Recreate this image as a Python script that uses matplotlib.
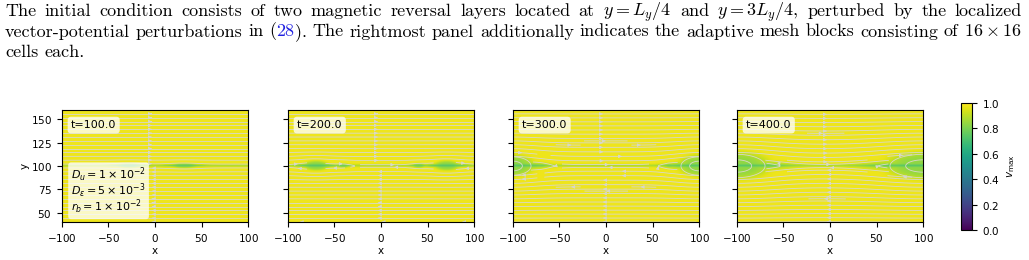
"""
Relecture d'une figure : feuilles de courant et îlots magnétiques
"""

import numpy as np
import matplotlib.pyplot as plt

plt.rcParams['mathtext.fontset'] = 'dejavusans'
plt.rcParams['axes.formatter.use_mathtext'] = True

# Texte du paragraphe au-dessus de la figure
para_lines = [
    ["The", "initial", "condition", "consists", "of", "two", "magnetic", "reversal",
     "layers", "located", "at", "$y = L_y/4$", "and", "$y = 3L_y/4$,", "perturbed",
     "by", "the", "localized"],
    ["vector-potential", "perturbations", "in", "(|28|).", "The", "rightmost",
     "panel", "additionally", "indicates", "the", "adaptive", "mesh", "blocks",
     "consisting", "of", "$16\\times16$"],
    ["cells", "each."],
]

# Données
times = [100.0, 200.0, 300.0, 400.0]
island_x = [[-28, 31], [-70, -41, 40, 70], [-100, -70, 68, 100], [-100, 100]]
island_wx = [[12, 13], [13, 6, 6, 13], [22, 5, 5, 22], [34, 40]]
island_wy = [[2.5, 2.5], [5, 2.5, 2.5, 5], [11, 2.5, 2.5, 11], [14, 14]]
island_depth = [[0.12, 0.12], [0.14, 0.1, 0.1, 0.14], [0.14, 0.09, 0.09, 0.14],
                [0.14, 0.14]]
sheet_y = 100
xlim = (-100, 100)
ylim = (40, 160)
params = ["$D_u = 1\\times10^{-2}$", "$D_\\varepsilon = 5\\times10^{-3}$",
          "$r_b = 1\\times10^{-2}$"]
cbar_ticks = [0.0, 0.2, 0.4, 0.6, 0.8, 1.0]

fig = plt.figure(figsize=(10.29, 2.6), dpi=100)
W, H = 1029, 260

# --- paragraphe justifié ---
renderer = fig.canvas.get_renderer()
baselines = [16, 36.5, 57]
x_left, x_right = 5, 1022
fs = 13
for k, line in enumerate(para_lines):
    arts = []
    widths = []
    for word in line:
        if "|" in word:
            parts = word.split("|")
            piece = [(parts[0], "k"), (parts[1], "#2020e0"), (parts[2], "k")]
        else:
            piece = [(word, "k")]
        wl = []
        for txt, col in piece:
            t = fig.text(0, 1 - baselines[k] / H, txt, fontsize=fs, color=col,
                         va='baseline', ha='left', family='cmr10',
                         math_fontfamily='cm')
            bb = t.get_window_extent(renderer)
            wl.append((t, bb.width))
        arts.append(wl)
        widths.append(sum(w for _, w in wl))
    space = fs * 1.389 * 0.33
    if k < len(para_lines) - 1:
        space = (x_right - x_left - sum(widths)) / (len(arts) - 1)
    x = x_left
    for wl, wtot in zip(arts, widths):
        xx = x
        for t, w in wl:
            t.set_x(xx / W)
            xx += w
        x += wtot + space

# --- panneaux ---
ax_left = [61, 287, 512, 736]
ax_w = 188
ax_bottom = 1 - 222 / H
ax_h = 112 / H

xs = np.linspace(xlim[0], xlim[1], 401)
ys = np.linspace(ylim[0], ylim[1], 241)
X, Y = np.meshgrid(xs, ys)
line_col = '#d8d8cc'

for i in range(4):
    ax = fig.add_axes([ax_left[i] / W, ax_bottom, ax_w / W, ax_h])
    # champ de couleur
    val = 0.975 - 0.1 * np.exp(-((Y - sheet_y) / 1.3) ** 2)
    blob = np.zeros_like(X)
    core = np.zeros_like(X)
    big = np.zeros_like(X)
    for xc, wx, wy, d in zip(island_x[i], island_wx[i], island_wy[i], island_depth[i]):
        r2 = ((X - xc) / wx) ** 2 + ((Y - sheet_y) / wy) ** 2
        blob = np.maximum(blob, d * np.exp(-r2 ** 2.5))
        core = np.maximum(core, np.exp(-r2))
        if wy >= 10:
            big = np.maximum(big, np.exp(-r2))
        # queue de l'îlot le long de la feuille
        r2t = ((X - xc) / (1.7 * wx)) ** 2 + ((Y - sheet_y) / (0.4 * wy)) ** 2
        blob = np.maximum(blob, 0.9 * d * np.exp(-r2t ** 2))
    val = val - blob
    im = ax.imshow(val, extent=(*xlim, *ylim), origin='lower', cmap='viridis',
                   vmin=0, vmax=1, interpolation='bilinear', aspect='equal')
    # flux magnétique
    Wd = 2.0
    A = Wd * np.log(np.cosh((Y - sheet_y) / Wd))
    for xc, wx, wy in zip(island_x[i], island_wx[i], island_wy[i]):
        A -= 0.5 * wy * np.exp(-((X - xc) / (1.5 * wx)) ** 2
                               - ((Y - sheet_y) / (2.5 * wy)) ** 2)
    dAdy, dAdx = np.gradient(A, ys, xs)
    inside = core > 0.45
    U = np.ma.masked_where(inside, dAdy)
    V = np.ma.masked_where(inside, -dAdx)
    ax.streamplot(xs, ys, U, V, color=line_col, linewidth=0.6,
                  density=(0.9, 1.0), arrowsize=0.45)
    # boucles fermées dans les grands îlots
    if big.max() > 0.5:
        ax.contour(xs, ys, big, levels=[0.45, 0.8], colors=line_col,
                   linewidths=0.6)
    ax.set_xlim(*xlim)
    ax.set_ylim(*ylim)
    ax.set_xticks([-100, -50, 0, 50, 100])
    ax.set_yticks([50, 75, 100, 125, 150])
    ax.tick_params(labelsize=7.5, length=3.5, width=0.8)
    ax.set_xlabel('x', fontsize=7.5, labelpad=2)
    if i == 0:
        ax.set_ylabel('y', fontsize=7.5, labelpad=1)
        ax.text(0.05, 0.05, "\n".join(params), transform=ax.transAxes,
                fontsize=8, va='bottom', ha='left', linespacing=0.85,
                bbox=dict(boxstyle='round,pad=0.25', fc='white', ec='none',
                          alpha=0.75))
    else:
        ax.set_yticklabels([])
    ax.text(0.05, 0.91, f"t={times[i]}", transform=ax.transAxes, fontsize=8,
            va='top', ha='left',
            bbox=dict(boxstyle='round,pad=0.3', fc='white', ec='none',
                      alpha=0.75))

cax = fig.add_axes([961 / W, 1 - 230 / H, 11 / W, 127 / H])
cb = fig.colorbar(im, cax=cax, ticks=cbar_ticks)
cb.ax.tick_params(labelsize=7.5, length=3.5)
cb.set_label("$v_{\\rm max}$", fontsize=7.5)

fig.savefig("out.png", dpi=100)
